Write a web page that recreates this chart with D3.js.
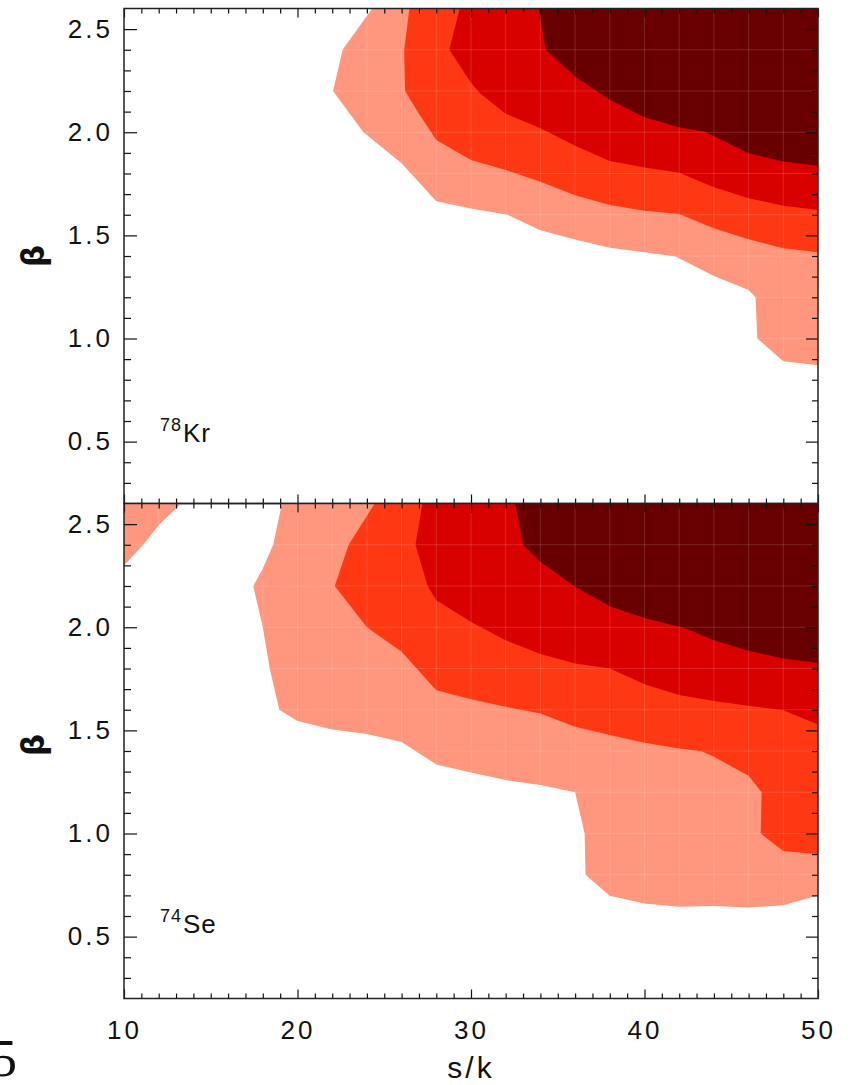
<!DOCTYPE html>
<html>
<head>
<meta charset="utf-8">
<script src="https://cdn.jsdelivr.net/npm/d3@7"></script>
<style>
  body { margin: 0; background: #fff; }
  svg { display: block; }
  text { font-family: "Liberation Sans", Arial, sans-serif; fill: #111; }
</style>
</head>
<body>
<div id="chart"></div>
<script>
// contour boundaries [s/k, beta], each level is filled up to the top-right corner
var krLevel1 = [[24.3,2.6],[22.6,2.4],[22.05,2.2],[23.8,2.0],[26,1.85],[28,1.665],[30,1.63],[32.1,1.6],[34,1.525],[36,1.48],[38,1.44],[40,1.418],[41.8,1.398],[44,1.303],[46,1.235],[46.4,1.2],[46.5,1.0],[48,0.89],[50,0.87]];
var krLevel2 = [[26.45,2.6],[26.15,2.4],[26.2,2.2],[27,2.09],[28,1.963],[30,1.866],[32,1.817],[34,1.76],[36,1.695],[38,1.647],[40,1.62],[42,1.604],[44,1.534],[46,1.481],[48,1.437],[50,1.418]];
var krLevel3 = [[29.35,2.6],[28.75,2.4],[30,2.24],[30.5,2.19],[32,2.09],[34,2.02],[36,1.935],[38,1.861],[40,1.829],[42,1.804],[44,1.733],[46,1.68],[48,1.644],[50,1.623]];
var krLevel4 = [[33.9,2.6],[34.3,2.4],[36,2.27],[38,2.157],[40,2.073],[42,2.024],[43.5,2.003],[46,1.898],[48,1.858],[50,1.837]];

var seCorner = [[10,2.6],[13.3,2.6],[12.05,2.5],[11.1,2.4],[10,2.3]];
var seLevel1 = [[19.1,2.6],[18.6,2.4],[18.0,2.285],[17.45,2.2],[18.0,2.0],[18.4,1.8],[18.95,1.6],[20,1.546],[22,1.504],[24,1.482],[26,1.444],[28,1.335],[30,1.296],[32,1.259],[34,1.235],[36,1.2],[36.55,1.0],[36.6,0.8],[38,0.698],[40,0.661],[42,0.645],[44,0.648],[46,0.641],[48,0.652],[50,0.70]];
var seLevel2 = [[24.45,2.6],[22.95,2.4],[22.15,2.2],[24,2.0],[26,1.881],[28,1.695],[30,1.651],[32,1.614],[34,1.582],[36,1.517],[38,1.477],[40,1.44],[42,1.412],[43.3,1.399],[44,1.372],[46,1.28],[46.75,1.2],[46.7,1.0],[48,0.915],[50,0.899]];
var seLevel3 = [[27.2,2.6],[26.8,2.4],[27.5,2.2],[28,2.131],[30,2.026],[32,1.937],[34,1.87],[36,1.824],[38,1.8],[40,1.724],[42,1.671],[44,1.642],[46,1.619],[48,1.598],[50,1.529]];
var seLevel4 = [[32.55,2.6],[33,2.4],[34,2.317],[36,2.196],[38,2.102],[40,2.045],[42.4,1.994],[44,1.937],[46,1.886],[48,1.849],[50,1.827]];

var levelColours = ['#ff967e', '#ff3814', '#d90000', '#690000'];
var xMajor = [10, 20, 30, 40, 50];
var yMajor = [0.5, 1.0, 1.5, 2.0, 2.5];

var panels = [
  {nucleus: 'Kr', mass: '78', levels: [krLevel1, krLevel2, krLevel3, krLevel4], extra: []},
  {nucleus: 'Se', mass: '74', levels: [seLevel1, seLevel2, seLevel3, seLevel4], extra: [seCorner]}
];

var width = 850, height = 1085;
var margin = {left: 124, top: 8.5};
var w = 694, ph = 495;

var svg = d3.select('#chart').append('svg')
  .attr('width', width)
  .attr('height', height);

var x = d3.scaleLinear().domain([10, 50]).range([0, w]);
var y = d3.scaleLinear().domain([0.2, 2.6]).range([ph, 0]);

var line = d3.line()
  .x(function (d) { return x(d[0]); })
  .y(function (d) { return y(d[1]); });

// closes a boundary through the top right corner
var region = function (pts) {
  if (pts[0][0] === 10) return line(pts) + 'Z';
  return line(pts.concat([[50, 2.6]])) + 'Z';
};

var xMinor = d3.range(10, 51, 1).filter(function (v) { return xMajor.indexOf(v) < 0; });
var yMinor = d3.range(3, 26).map(function (v) { return v / 10; }).filter(function (v) { return v % 0.5 > 0.01 && v % 0.5 < 0.49; });

panels.forEach(function (p, i) {
  var g = svg.append('g')
    .attr('transform', 'translate(' + margin.left + ',' + (margin.top + i * ph) + ')');

  var clipId = 'clip' + i;
  var clip = g.append('clipPath').attr('id', clipId);
  [p.levels[0]].concat(p.extra).forEach(function (pts) {
    clip.append('path').attr('d', region(pts));
  });

  g.selectAll('.extra')
    .data(p.extra)
    .enter()
    .append('path')
    .attr('d', region)
    .style('fill', levelColours[0]);

  g.selectAll('.level')
    .data(p.levels)
    .enter()
    .append('path')
    .attr('class', 'level')
    .attr('d', region)
    .style('fill', function (d, j) { return levelColours[j]; });

  // faint cell edges left by the contour fill
  var grid = g.append('g').attr('clip-path', 'url(#' + clipId + ')')
    .style('stroke', '#fff').style('stroke-opacity', 0.14).style('stroke-width', 1);
  grid.selectAll('.gx').data(d3.range(12, 50, 2)).enter().append('line')
    .attr('x1', function (d) { return x(d); }).attr('x2', function (d) { return x(d); })
    .attr('y1', 0).attr('y2', ph);
  grid.selectAll('.gy').data(d3.range(2, 13).map(function (v) { return v / 5; })).enter().append('line')
    .attr('y1', function (d) { return y(d); }).attr('y2', function (d) { return y(d); })
    .attr('x1', 0).attr('x2', w);

  // axes
  var leftMajor = d3.axisLeft(y).tickValues(yMajor).tickSize(-13).tickPadding(11).tickFormat(d3.format('.1f'));
  var leftMinor = d3.axisLeft(y).tickValues(yMinor).tickSize(-7).tickFormat('');
  var rightMajor = d3.axisRight(y).tickValues(yMajor).tickSize(-12).tickFormat('');
  var rightMinor = d3.axisRight(y).tickValues(yMinor).tickSize(-6).tickFormat('');
  var topMajor = d3.axisTop(x).tickValues(xMajor).tickSize(-9).tickFormat('');
  var topMinor = d3.axisTop(x).tickValues(xMinor).tickSize(-5).tickFormat('');
  var botMajor = d3.axisBottom(x).tickValues(xMajor).tickSize(-9).tickPadding(22).tickFormat(i === 1 ? d3.format('d') : '');
  var botMinor = d3.axisBottom(x).tickValues(xMinor).tickSize(-5).tickFormat('');

  var axes = [
    [leftMajor, 0, 0], [leftMinor, 0, 0], [rightMajor, w, 0], [rightMinor, w, 0],
    [topMajor, 0, 0], [topMinor, 0, 0], [botMajor, 0, ph], [botMinor, 0, ph]
  ];
  axes.forEach(function (a) {
    var ag = g.append('g')
      .attr('transform', 'translate(' + a[1] + ',' + a[2] + ')')
      .call(a[0]);
    ag.select('.domain').remove();
    ag.selectAll('line').style('stroke', '#111').style('stroke-width', 1.2);
    ag.selectAll('text')
      .style('font-family', '"Liberation Sans", Arial, sans-serif')
      .style('font-size', '26px')
      .style('letter-spacing', '3px')
      .style('fill', '#111');
  });

  g.append('rect')
    .attr('width', w).attr('height', ph)
    .style('fill', 'none').style('stroke', '#222').style('stroke-width', 1.5);

  // nucleus label
  var lab = g.append('text')
    .attr('x', 36)
    .attr('y', y(0.5) - (i === 0 ? 0 : 4))
    .style('font-size', '26px')
    .style('letter-spacing', '1px');
  lab.append('tspan').text(p.mass).style('font-size', '18px').attr('dy', -11);
  lab.append('tspan').text(p.nucleus).attr('dy', 11).attr('dx', 1);

  // beta label
  g.append('text')
    .attr('transform', 'translate(' + (-80) + ',' + (ph / 2 + (i === 0 ? 0 : -6)) + ') rotate(-90)')
    .attr('text-anchor', 'middle')
    .style('font-family', '"DejaVu Sans", sans-serif')
    .style('font-size', '31px')
    .style('font-weight', 'bold')
    .text('β');
});

svg.append('text')
  .attr('x', margin.left + w / 2)
  .attr('y', 1078)
  .attr('text-anchor', 'middle')
  .style('font-size', '30px')
  .style('letter-spacing', '3px')
  .text('s/k');

svg.append('text')
  .attr('x', 17)
  .attr('y', 1076)
  .attr('text-anchor', 'end')
  .style('font-family', '"Liberation Serif", "DejaVu Serif", serif')
  .style('font-size', '52px')
  .text('5');
</script>
</body>
</html>
